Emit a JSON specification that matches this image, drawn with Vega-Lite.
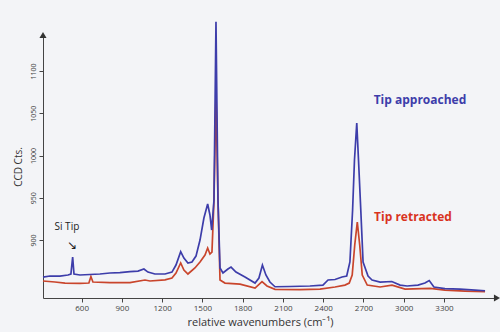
{
  "$schema": "https://vega.github.io/schema/vega-lite/v6.json",
  "width": 454,
  "height": 263,
  "autosize": "none",
  "padding": {"left": 43, "top": 35, "right": 3, "bottom": 34},
  "background": "#f3f4f7",
  "config": {
    "view": {"stroke": null},
    "font": "Open Sans",
    "axis": {"grid": false, "domainColor": "#444", "tickColor": "#444", "labelColor": "#444", "titleColor": "#333"}
  },
  "datasets": {
    "spec": [
      {"series": "approached", "wn": 312, "c": 856.2},
      {"series": "approached", "wn": 364, "c": 857.4},
      {"series": "approached", "wn": 438, "c": 857.4},
      {"series": "approached", "wn": 498, "c": 858.6},
      {"series": "approached", "wn": 520, "c": 859.8},
      {"series": "approached", "wn": 533, "c": 879.9},
      {"series": "approached", "wn": 543, "c": 859.8},
      {"series": "approached", "wn": 587, "c": 858.6},
      {"series": "approached", "wn": 662, "c": 859.2},
      {"series": "approached", "wn": 736, "c": 859.8},
      {"series": "approached", "wn": 811, "c": 861.0},
      {"series": "approached", "wn": 885, "c": 861.5},
      {"series": "approached", "wn": 960, "c": 862.5},
      {"series": "approached", "wn": 1020, "c": 863.3},
      {"series": "approached", "wn": 1064, "c": 865.7},
      {"series": "approached", "wn": 1094, "c": 862.1},
      {"series": "approached", "wn": 1146, "c": 859.8},
      {"series": "approached", "wn": 1221, "c": 859.8},
      {"series": "approached", "wn": 1273, "c": 862.1},
      {"series": "approached", "wn": 1303, "c": 870.4},
      {"series": "approached", "wn": 1338, "c": 886.2},
      {"series": "approached", "wn": 1362, "c": 878.7},
      {"series": "approached", "wn": 1392, "c": 872.8},
      {"series": "approached", "wn": 1422, "c": 874.0},
      {"series": "approached", "wn": 1452, "c": 881.0},
      {"series": "approached", "wn": 1482, "c": 900.0},
      {"series": "approached", "wn": 1511, "c": 926.0},
      {"series": "approached", "wn": 1539, "c": 942.6},
      {"series": "approached", "wn": 1556, "c": 929.6},
      {"series": "approached", "wn": 1569, "c": 911.8},
      {"series": "approached", "wn": 1586, "c": 947.0},
      {"series": "approached", "wn": 1601, "c": 1158.3},
      {"series": "approached", "wn": 1616, "c": 947.0},
      {"series": "approached", "wn": 1631, "c": 866.9},
      {"series": "approached", "wn": 1653, "c": 861.0},
      {"series": "approached", "wn": 1690, "c": 865.7},
      {"series": "approached", "wn": 1713, "c": 868.0},
      {"series": "approached", "wn": 1750, "c": 862.1},
      {"series": "approached", "wn": 1817, "c": 856.2},
      {"series": "approached", "wn": 1892, "c": 849.1},
      {"series": "approached", "wn": 1921, "c": 855.0},
      {"series": "approached", "wn": 1947, "c": 870.4},
      {"series": "approached", "wn": 1973, "c": 858.6},
      {"series": "approached", "wn": 2003, "c": 850.3},
      {"series": "approached", "wn": 2041, "c": 844.7},
      {"series": "approached", "wn": 2152, "c": 845.0},
      {"series": "approached", "wn": 2301, "c": 845.6},
      {"series": "approached", "wn": 2398, "c": 846.7},
      {"series": "approached", "wn": 2436, "c": 852.7},
      {"series": "approached", "wn": 2488, "c": 853.3},
      {"series": "approached", "wn": 2540, "c": 856.2},
      {"series": "approached", "wn": 2575, "c": 857.4},
      {"series": "approached", "wn": 2599, "c": 874.0},
      {"series": "approached", "wn": 2619, "c": 935.5},
      {"series": "approached", "wn": 2633, "c": 994.7},
      {"series": "approached", "wn": 2650, "c": 1038.5},
      {"series": "approached", "wn": 2663, "c": 994.7},
      {"series": "approached", "wn": 2680, "c": 935.5},
      {"series": "approached", "wn": 2697, "c": 874.0},
      {"series": "approached", "wn": 2734, "c": 857.4},
      {"series": "approached", "wn": 2764, "c": 852.7},
      {"series": "approached", "wn": 2824, "c": 850.3},
      {"series": "approached", "wn": 2911, "c": 850.9},
      {"series": "approached", "wn": 2973, "c": 846.7},
      {"series": "approached", "wn": 3025, "c": 845.6},
      {"series": "approached", "wn": 3106, "c": 846.7},
      {"series": "approached", "wn": 3158, "c": 849.1},
      {"series": "approached", "wn": 3190, "c": 852.1},
      {"series": "approached", "wn": 3225, "c": 844.4},
      {"series": "approached", "wn": 3307, "c": 842.6},
      {"series": "approached", "wn": 3419, "c": 842.0},
      {"series": "approached", "wn": 3531, "c": 840.8},
      {"series": "approached", "wn": 3606, "c": 840.0},
      {"series": "retracted", "wn": 312, "c": 851.5},
      {"series": "retracted", "wn": 401, "c": 850.3},
      {"series": "retracted", "wn": 476, "c": 849.1},
      {"series": "retracted", "wn": 587, "c": 848.8},
      {"series": "retracted", "wn": 654, "c": 849.1},
      {"series": "retracted", "wn": 669, "c": 856.8},
      {"series": "retracted", "wn": 684, "c": 850.3},
      {"series": "retracted", "wn": 811, "c": 849.7},
      {"series": "retracted", "wn": 960, "c": 849.5},
      {"series": "retracted", "wn": 1072, "c": 852.7},
      {"series": "retracted", "wn": 1109, "c": 851.5},
      {"series": "retracted", "wn": 1221, "c": 852.9},
      {"series": "retracted", "wn": 1273, "c": 855.0},
      {"series": "retracted", "wn": 1303, "c": 860.9},
      {"series": "retracted", "wn": 1338, "c": 872.8},
      {"series": "retracted", "wn": 1362, "c": 864.5},
      {"series": "retracted", "wn": 1392, "c": 859.8},
      {"series": "retracted", "wn": 1444, "c": 866.9},
      {"series": "retracted", "wn": 1482, "c": 874.0},
      {"series": "retracted", "wn": 1519, "c": 882.2},
      {"series": "retracted", "wn": 1539, "c": 890.5},
      {"series": "retracted", "wn": 1556, "c": 883.4},
      {"series": "retracted", "wn": 1571, "c": 885.8},
      {"series": "retracted", "wn": 1586, "c": 947.0},
      {"series": "retracted", "wn": 1601, "c": 1071.6},
      {"series": "retracted", "wn": 1616, "c": 947.0},
      {"series": "retracted", "wn": 1631, "c": 852.7},
      {"series": "retracted", "wn": 1668, "c": 849.1},
      {"series": "retracted", "wn": 1780, "c": 847.9},
      {"series": "retracted", "wn": 1892, "c": 843.2},
      {"series": "retracted", "wn": 1944, "c": 850.7},
      {"series": "retracted", "wn": 1981, "c": 845.6},
      {"series": "retracted", "wn": 2041, "c": 841.7},
      {"series": "retracted", "wn": 2227, "c": 841.4},
      {"series": "retracted", "wn": 2376, "c": 842.0},
      {"series": "retracted", "wn": 2488, "c": 844.4},
      {"series": "retracted", "wn": 2562, "c": 846.7},
      {"series": "retracted", "wn": 2594, "c": 849.1},
      {"series": "retracted", "wn": 2616, "c": 858.6},
      {"series": "retracted", "wn": 2635, "c": 894.1},
      {"series": "retracted", "wn": 2654, "c": 921.3},
      {"series": "retracted", "wn": 2672, "c": 894.1},
      {"series": "retracted", "wn": 2691, "c": 858.6},
      {"series": "retracted", "wn": 2728, "c": 846.7},
      {"series": "retracted", "wn": 2824, "c": 844.4},
      {"series": "retracted", "wn": 2913, "c": 846.7},
      {"series": "retracted", "wn": 3010, "c": 842.0},
      {"series": "retracted", "wn": 3197, "c": 842.8},
      {"series": "retracted", "wn": 3307, "c": 840.8},
      {"series": "retracted", "wn": 3456, "c": 839.6},
      {"series": "retracted", "wn": 3606, "c": 838.8}
    ],
    "labels": [
      {"wn": 3121, "c": 1065.7, "text": "Tip approached", "kind": "a"},
      {"wn": 3069, "c": 927.2, "text": "Tip retracted", "kind": "r"}
    ],
    "arrows": [
      {"wn": 312, "c": 1142.6, "dir": "up"},
      {"wn": 3695, "c": 831.4, "dir": "right"}
    ]
  },
  "layer": [
    {
      "data": {"name": "spec"},
      "transform": [{"filter": "datum.series === 'retracted'"}],
      "mark": {"type": "line", "color": "#c9452c", "strokeWidth": 1.7, "clip": false},
      "encoding": {
        "x": {"field": "wn", "type": "quantitative", "scale": {"domain": [312, 3695], "nice": false, "zero": false},
          "axis": {"values": [600, 900, 1200, 1500, 1800, 2100, 2400, 2700, 3000, 3300], "format": "d", "title": "relative wavenumbers (cm⁻¹)", "labelFontSize": 8, "titleFontSize": 11, "titleFontWeight": "normal", "tickSize": 4, "labelPadding": 2, "titlePadding": 4, "titleX": 217}},
        "y": {"field": "c", "type": "quantitative", "scale": {"domain": [831.4, 1142.6], "nice": false, "zero": false},
          "axis": {"values": [900, 950, 1000, 1050, 1100], "format": "d", "title": "CCD Cts.", "labelFontSize": 7, "labelAngle": -90, "labelAlign": "center", "labelBaseline": "bottom", "labelPadding": 3, "tickSize": 4, "titleFontSize": 10, "titleFontWeight": "normal", "titlePadding": 6}}
      }
    },
    {
      "data": {"name": "spec"},
      "transform": [{"filter": "datum.series === 'approached'"}],
      "mark": {"type": "line", "color": "#3d3daa", "strokeWidth": 1.7, "clip": false},
      "encoding": {
        "x": {"field": "wn", "type": "quantitative"},
        "y": {"field": "c", "type": "quantitative"}
      }
    },
    {
      "data": {"name": "labels"},
      "mark": {"type": "text", "fontWeight": "bold", "fontSize": 12, "font": "Open Sans"},
      "encoding": {
        "x": {"field": "wn", "type": "quantitative"},
        "y": {"field": "c", "type": "quantitative"},
        "text": {"field": "text"},
        "color": {"field": "kind", "type": "nominal", "scale": {"domain": ["a", "r"], "range": ["#3d3daa", "#d9331f"]}, "legend": null}
      }
    },
    {
      "data": {"values": [{"wn": 490, "c": 915, "text": "Si Tip"}]},
      "mark": {"type": "text", "fontSize": 10, "color": "#222", "font": "Open Sans"},
      "encoding": {
        "x": {"field": "wn", "type": "quantitative"},
        "y": {"field": "c", "type": "quantitative"},
        "text": {"field": "text"}
      }
    },
    {
      "data": {"values": [{"wn": 530, "c": 894}]},
      "mark": {"type": "text", "text": "↘", "fontSize": 12, "color": "#222", "font": "DejaVu Sans"},
      "encoding": {
        "x": {"field": "wn", "type": "quantitative"},
        "y": {"field": "c", "type": "quantitative"}
      }
    },
    {
      "data": {"name": "arrows"},
      "mark": {"type": "point", "filled": true, "color": "#333", "size": 50, "opacity": 1, "clip": false},
      "encoding": {
        "x": {"field": "wn", "type": "quantitative"},
        "y": {"field": "c", "type": "quantitative"},
        "shape": {"field": "dir", "type": "nominal", "scale": {"domain": ["up", "right"], "range": ["triangle-up", "triangle-right"]}, "legend": null}
      }
    }
  ]
}
